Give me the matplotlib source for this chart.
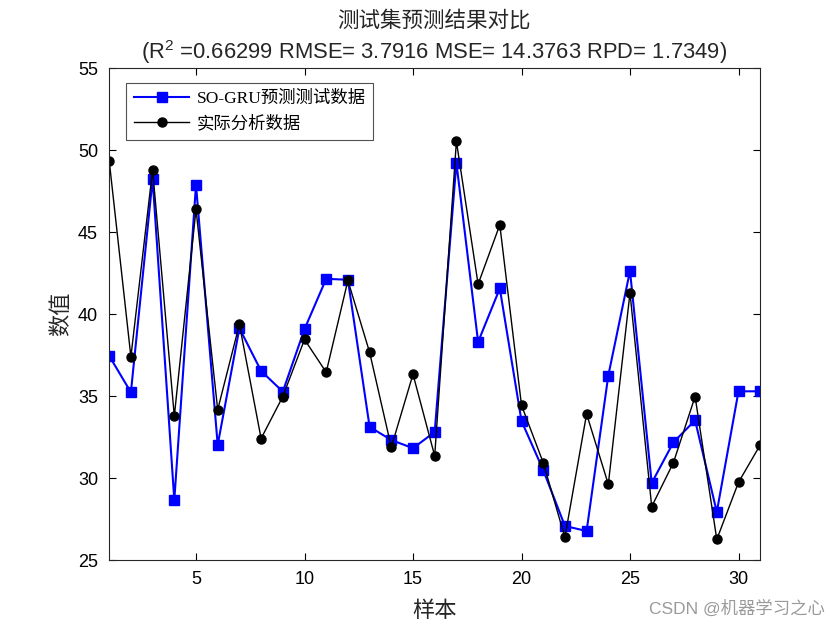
import matplotlib
matplotlib.use("Agg")
import matplotlib.pyplot as plt
import numpy as np

plt.rcParams["font.family"] = ["Liberation Sans", "Noto Sans CJK SC"]
plt.rcParams["mathtext.fontset"] = "custom"
plt.rcParams["mathtext.rm"] = "Liberation Sans"
plt.rcParams["mathtext.it"] = "Liberation Sans"

# ── Datos ──────────────────────────────────────────────────────────────────────
samples = np.arange(1, 32)
pred = [37.45, 35.23, 48.23, 28.66, 47.88, 32.02, 39.14, 36.53, 35.27, 39.08,
        42.15, 42.09, 33.12, 32.32, 31.82, 32.81, 49.22, 38.30, 41.56, 33.48,
        30.49, 27.08, 26.77, 36.25, 42.63, 29.70, 32.18, 33.52, 27.93, 35.29,
        35.29]
actual = [49.35, 37.39, 48.80, 33.77, 46.38, 34.17, 39.38, 32.41, 34.97, 38.45,
          36.45, 42.05, 37.67, 31.88, 36.33, 31.35, 50.53, 41.82, 45.44, 34.44,
          30.94, 26.39, 33.91, 29.62, 41.29, 28.26, 30.94, 34.97, 26.26, 29.74,
          32.02]
xticks = [5, 10, 15, 20, 25, 30]
yticks = [25, 30, 35, 40, 45, 50, 55]

# ── Figura ─────────────────────────────────────────────────────────────────────
fig = plt.figure(figsize=(8.4, 6.3), dpi=100)
ax = fig.add_axes([0.13, 0.111, 0.775, 0.781])

ax.plot(samples, pred, color="#0000ff", lw=1.5, marker="s", ms=7,
        label="SO-GRU预测测试数据")
ax.plot(samples, actual, color="black", lw=1.0, marker="o", ms=6.5,
        label="实际分析数据")

ax.set_xlim(1, 31)
ax.set_ylim(25, 55)
ax.set_xticks(xticks)
ax.set_yticks(yticks)
ax.tick_params(direction="in", top=True, right=True, length=5, labelsize=13,
               width=0.8, pad=8)
for sp in ax.spines.values():
    sp.set_linewidth(0.8)
    sp.set_color("#262626")

ax.set_xlabel("样本", fontsize=16, family=["Noto Sans CJK SC"], color="#262626",
              labelpad=8)
ax.set_ylabel("数值", fontsize=16, family=["Noto Sans CJK SC"], color="#262626",
              labelpad=4)

leg = ax.legend(loc="upper left", bbox_to_anchor=(0.026, 0.970),
                borderaxespad=0, fancybox=False,
                edgecolor="#262626", handlelength=3.2, borderpad=0.45,
                labelspacing=0.5, handletextpad=0.4,
                prop={"family": ["Liberation Serif", "Noto Sans CJK SC"],
                      "size": 12.5})
leg.get_frame().set_linewidth(0.8)

fig.text(0.517, 0.968, "测试集预测结果对比", ha="center", va="center",
         fontsize=15.5, family=["Noto Sans CJK SC"], color="#262626")
fig.text(0.517, 0.918,
         "(R$^{2}$ =0.66299 RMSE= 3.7916 MSE= 14.3763 RPD= 1.7349)",
         ha="center", va="center", fontsize=15.8, color="#262626")

fig.text(0.982, 0.035, "CSDN @机器学习之心", ha="right", va="center",
         fontsize=12.5, color="#9a9a9a")

fig.savefig("out.png", dpi=100)
plt.close()
